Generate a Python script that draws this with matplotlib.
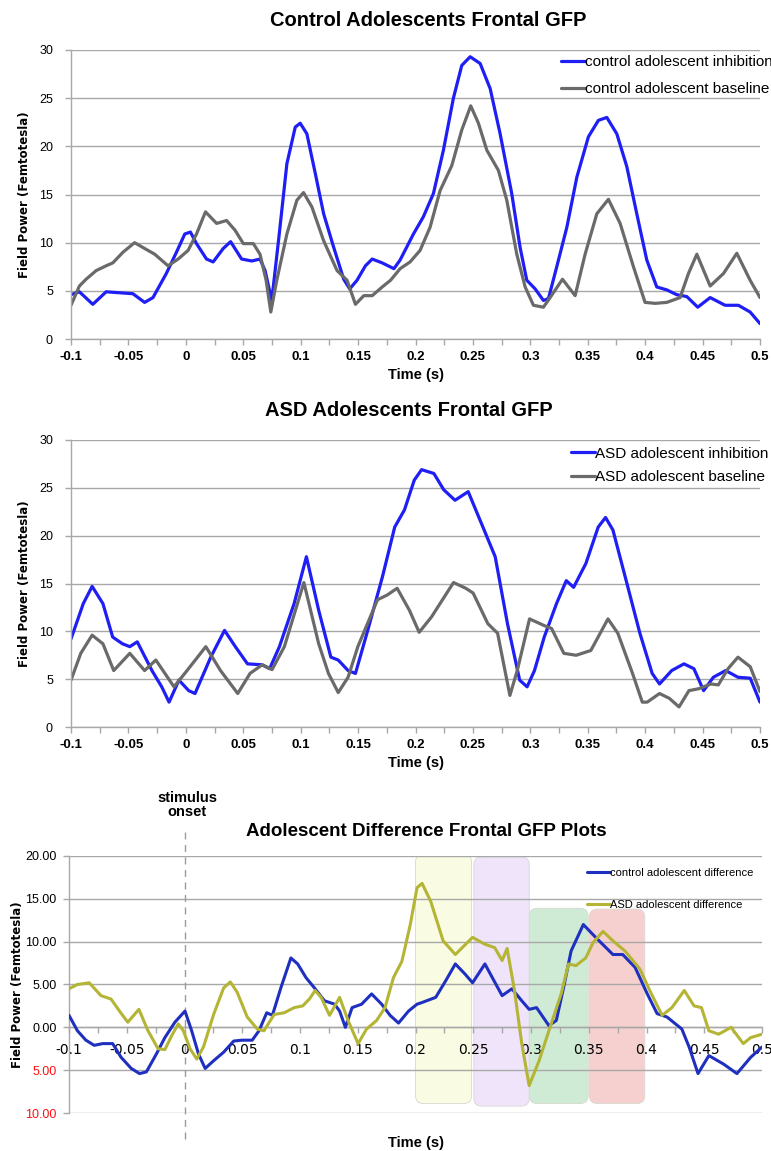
import matplotlib
matplotlib.use("Agg")
import matplotlib.pyplot as plt
from matplotlib.patches import FancyBboxPatch
import numpy as np

# ---------------- DATA ----------------
# Control adolescents (top)
ctrl_inh_t = [-0.1, -0.0927, -0.081, -0.0694, -0.0577, -0.0461, -0.0359, -0.0286, -0.017, -0.0082,
              -0.0009, 0.004, 0.0093, 0.018, 0.0238, 0.0326, 0.039, 0.0486, 0.0574, 0.0646,
              0.069, 0.0748, 0.0807, 0.088, 0.0953, 0.0996, 0.1054, 0.1127, 0.12, 0.1288,
              0.1375, 0.1427, 0.1491, 0.1564, 0.1623, 0.171, 0.1812,
              0.1866, 0.1982, 0.2069, 0.2156, 0.2243, 0.233, 0.2403, 0.2476, 0.2563, 0.265,
              0.2737, 0.2838, 0.2911, 0.2969, 0.3042, 0.3114, 0.3158, 0.323, 0.3318, 0.3405,
              0.3506, 0.3593, 0.3666, 0.3753, 0.384, 0.3927, 0.4014, 0.4101, 0.4188, 0.4275,
              0.4363, 0.4458, 0.4566, 0.4696, 0.4812, 0.4914, 0.5]
ctrl_inh_v = [4.6, 4.9, 3.6, 4.9, 4.8, 4.7, 3.8, 4.3, 6.8, 9.0,
              10.9, 11.1, 9.9, 8.3, 8.0, 9.4, 10.1, 8.3, 8.1, 8.3,
              7.1, 4.0, 10.2, 18.2, 22.0, 22.4, 21.3, 17.2, 13.0, 9.5,
              6.2, 5.2, 6.1, 7.6, 8.3, 7.9, 7.3,
              8.2, 10.9, 12.7, 15.1, 19.6, 25.0, 28.4, 29.3, 28.6, 26.0,
              21.3, 15.1, 9.5, 6.1, 5.2, 4.0, 4.2, 7.5, 11.6, 16.8,
              21.0, 22.7, 23.0, 21.3, 17.9, 13.0, 8.2, 5.4, 5.1, 4.6,
              4.4, 3.3, 4.3, 3.5, 3.5, 2.8, 1.6]
ctrl_base_t = [-0.1, -0.0927, -0.0869, -0.0781, -0.0694, -0.0636, -0.0548, -0.0446, -0.0374, -0.0271,
               -0.0155, -0.0067, 0.002, 0.0093, 0.0171, 0.0268, 0.0355, 0.0428, 0.0501, 0.0588,
               0.0646, 0.0699, 0.074, 0.0792, 0.088, 0.0967, 0.1025, 0.1098, 0.12, 0.1317,
               0.1404, 0.1477, 0.155, 0.1623, 0.171, 0.1783,
               0.1866, 0.1953, 0.2040, 0.2127, 0.2214, 0.2316, 0.2403, 0.2481, 0.2548, 0.2621,
               0.2722, 0.2795, 0.2882, 0.2955, 0.3027, 0.3114, 0.3172, 0.328, 0.339, 0.3477,
               0.3579, 0.368, 0.3782, 0.3898, 0.3999, 0.4087, 0.4188, 0.4304, 0.4377, 0.445,
               0.4566, 0.4682, 0.4798, 0.4914, 0.5]
ctrl_base_v = [3.5, 5.5, 6.2, 7.1, 7.6, 7.9, 9.0, 10.0, 9.5, 8.8,
               7.6, 8.3, 9.2, 10.9, 13.2, 12.0, 12.3, 11.3, 9.9, 9.9,
               8.8, 6.1, 2.8, 6.1, 10.9, 14.4, 15.2, 13.7, 10.2, 7.1,
               6.1, 3.6, 4.5, 4.5, 5.4, 6.1,
               7.3, 8.0, 9.2, 11.6, 15.4, 18.0, 21.7, 24.2, 22.4, 19.6,
               17.5, 14.4, 8.8, 5.4, 3.5, 3.3, 4.3, 6.2, 4.5, 8.8,
               13.0, 14.5, 12.0, 7.5, 3.8, 3.7, 3.8, 4.3, 6.8, 8.8,
               5.5, 6.8, 8.9, 6.1, 4.3]

# ASD adolescents (middle)
asd_inh_t = [-0.1, -0.0893, -0.0816, -0.0722, -0.0637, -0.0552, -0.0488, -0.0423, -0.0295, -0.0210,
             -0.0146, -0.0060, 0.0025, 0.0080, 0.0217, 0.0337, 0.0431, 0.0537, 0.0665, 0.0730,
             0.0815, 0.0943, 0.1050, 0.1157, 0.1263, 0.1327, 0.1413, 0.1477, 0.1584, 0.1712,
             0.1819, 0.1904, 0.1989, 0.2053, 0.2160, 0.2246, 0.2344, 0.2459, 0.2587, 0.2694,
             0.2801, 0.2907, 0.2972, 0.3036, 0.3121, 0.3228, 0.3313, 0.3377, 0.3484, 0.3591,
             0.3655, 0.3719, 0.3826, 0.3954, 0.4061, 0.4125, 0.4231, 0.4338, 0.4424, 0.4509,
             0.4594, 0.4701, 0.4808, 0.4915, 0.5]
asd_inh_v = [9.2, 12.9, 14.7, 12.9, 9.4, 8.7, 8.4, 8.9, 5.9, 4.2,
             2.6, 4.9, 3.8, 3.5, 7.3, 10.1, 8.4, 6.6, 6.5, 6.1,
             8.4, 12.9, 17.8, 12.2, 7.3, 7.0, 5.9, 5.6, 10.1, 15.7,
             20.9, 22.7, 25.8, 26.9, 26.5, 24.8, 23.7, 24.6, 20.9, 17.8,
             10.8, 4.9, 4.2, 5.9, 9.4, 12.9, 15.3, 14.6, 17.1, 20.9,
             21.9, 20.6, 15.7, 9.8, 5.6, 4.5, 5.9, 6.6, 6.1, 3.8,
             5.2, 5.9, 5.2, 5.1, 2.6]
asd_base_t = [-0.1, -0.0915, -0.0816, -0.0722, -0.0628, -0.0488, -0.0359, -0.0261, -0.0103, 0.0004,
              0.0174, 0.0302, 0.0452, 0.0559, 0.0665, 0.0751, 0.0858, 0.1028, 0.1157, 0.1242,
              0.1327, 0.1413, 0.1498, 0.1669, 0.1754, 0.1840, 0.1947, 0.2032, 0.2139, 0.2331,
              0.2438, 0.2502, 0.2630, 0.2715, 0.2779, 0.2822, 0.2886, 0.2993, 0.3121, 0.3185,
              0.3292, 0.3399, 0.3527, 0.3676, 0.3762, 0.3890, 0.3975, 0.4018, 0.4125, 0.4210,
              0.4295, 0.4381, 0.4466, 0.4573, 0.4637, 0.4722, 0.4808, 0.4915, 0.5]
asd_base_v = [4.9, 7.7, 9.6, 8.7, 5.9, 7.7, 5.9, 7.0, 4.2, 5.8,
              8.4, 5.9, 3.5, 5.6, 6.5, 6.0, 8.4, 15.1, 8.7, 5.6,
              3.6, 5.2, 8.4, 13.3, 13.8, 14.5, 12.2, 9.9, 11.5, 15.1,
              14.5, 14.0, 10.8, 9.8, 5.9, 3.3, 5.9, 11.3, 10.6, 10.3,
              7.7, 7.5, 8.0, 11.3, 9.8, 5.6, 2.6, 2.6, 3.5, 3.0,
              2.1, 3.8, 4.0, 4.5, 4.4, 6.1, 7.3, 6.3, 3.7]

# Difference (bottom)
ctrl_diff_t = [-0.1, -0.0927, -0.0854, -0.0782, -0.0709, -0.0622, -0.0549, -0.0461, -0.0389, -0.033,
               -0.0243, -0.017, -0.0083, 0.0004, 0.0062, 0.0121, 0.0179, 0.0252, 0.0339, 0.0426,
               0.0499, 0.0586, 0.0645, 0.0712, 0.0761, 0.0834, 0.0921, 0.098, 0.1052, 0.1125,
               0.1212, 0.13, 0.1343, 0.1393, 0.1451, 0.1533, 0.162, 0.1707, 0.178, 0.1853,
               0.194, 0.2013, 0.2057,
               0.2175, 0.2260, 0.2345, 0.2430, 0.2494, 0.2601, 0.2665,
               0.2750, 0.2835, 0.2920, 0.2984, 0.3048, 0.3155, 0.3219, 0.3283, 0.3347, 0.3453,
               0.3560, 0.3709, 0.3794, 0.3901, 0.4007, 0.4092, 0.4178, 0.4306, 0.4369, 0.4446,
               0.4540, 0.4668, 0.4783, 0.4902, 0.5]
ctrl_diff_v = [1.4, -0.4, -1.5, -2.1, -1.9, -1.9, -3.5, -4.8, -5.4, -5.2,
               -3.1, -1.2, 0.6, 1.9, -0.4, -3.1, -4.8, -3.9, -2.9, -1.6,
               -1.5, -1.5, -0.4, 1.7, 1.4, 4.6, 8.1, 7.4, 5.8, 4.6,
               3.1, 2.7, 1.9, 0.0, 2.3, 2.7, 3.9, 2.7, 1.4, 0.5,
               1.9, 2.7, 2.9,
               3.5, 5.4, 7.4, 6.2, 5.2, 7.4, 5.8,
               3.7, 4.5, 3.1, 2.1, 2.3, 0.2, 0.8, 4.7, 8.9, 12.0,
               10.5, 8.5, 8.5, 7.0, 3.9, 1.6, 1.2, -0.2, -2.3, -5.4,
               -3.3, -4.3, -5.4, -3.5, -2.3]
asd_diff_t = [-0.1, -0.0927, -0.0825, -0.0723, -0.0636, -0.0563, -0.0491, -0.0395, -0.0316, -0.0229,
              -0.017, -0.0112, -0.0054, -0.001, 0.0048, 0.0106, 0.0164, 0.0252, 0.0339, 0.0397,
              0.0456, 0.0543, 0.063, 0.0688, 0.0776, 0.0863, 0.095, 0.1023, 0.1081, 0.1131,
              0.1183, 0.1256, 0.1343, 0.1416, 0.1503, 0.1576, 0.1663, 0.1736, 0.1809, 0.1882,
              0.1955, 0.2013, 0.2057,
              0.2132, 0.2239, 0.2345, 0.2494, 0.2601, 0.2686,
              0.2750, 0.2793, 0.2857, 0.2920, 0.2984, 0.3070, 0.3155, 0.3261, 0.3325, 0.3389,
              0.3474, 0.3538, 0.3624, 0.3709, 0.3815, 0.3943, 0.4028, 0.4135, 0.4220, 0.4327,
              0.4412, 0.4476, 0.4540, 0.4625, 0.4732, 0.4838, 0.4902, 0.5]
asd_diff_v = [4.5, 5.0, 5.2, 3.7, 3.3, 1.9, 0.6, 2.1, -0.4, -2.5,
              -2.6, -1.0, 0.4, -0.4, -2.5, -3.7, -2.3, 1.5, 4.6, 5.3,
              4.1, 1.2, -0.2, -0.4, 1.5, 1.7, 2.3, 2.5, 3.3, 4.3,
              3.5, 1.4, 3.5, 0.8, -1.9, -0.2, 0.8, 2.3, 5.8, 7.7,
              12.0, 16.3, 16.8,
              14.7, 10.1, 8.5, 10.5, 9.7, 9.3,
              7.8, 9.2, 4.3, -1.9, -6.8, -3.9, -0.4, 3.9, 7.4, 7.2,
              8.1, 9.9, 11.2, 10.1, 8.9, 6.8, 4.3, 1.4, 2.3, 4.3,
              2.5, 2.3, -0.4, -0.8, 0.0, -1.9, -1.2, -0.8]

# Tick labels
x_tick_vals = [-0.1, -0.05, 0, 0.05, 0.1, 0.15, 0.2, 0.25, 0.3, 0.35, 0.4, 0.45, 0.5]
x_tick_labels = ["-0.1", "-0.05", "0", "0.05", "0.1", "0.15", "0.2", "0.25", "0.3", "0.35", "0.4", "0.45", "0.5"]
y_top_vals = [0, 5, 10, 15, 20, 25, 30]
y_top_labels = ["0", "5", "10", "15", "20", "25", "30"]
y_diff_vals = [-10, -5, 0, 5, 10, 15, 20]
y_diff_labels = ["10.00", "5.00", "0.00", "5.00", "10.00", "15.00", "20.00"]

# Highlight windows in the difference plot
win_x0 = [0.200, 0.2505, 0.2985, 0.3505]
win_x1 = [0.2485, 0.2985, 0.3495, 0.3985]
win_top = [20.2, 19.9, 13.9, 13.8]
win_bottom = [-8.9, -9.2, -8.9, -8.9]
win_colors = ["#f9fbe2", "#efe4fa", "#d0ebd5", "#f6d0cf"]

# ---------------- STYLE ----------------
SANS = ["Liberation Sans", "DejaVu Sans"]
BLUE = "#1e1ef5"
GRAY = "#6a6a6a"
DBLUE = "#1f30c0"
OLIVE = "#b4b435"
GRIDC = "#a8a8a8"

W, H = 771, 1151
fig = plt.figure(figsize=(W / 100, H / 100), dpi=100)


def axes_px(l, t, r, b):
    return fig.add_axes([l / W, 1 - b / H, (r - l) / W, (b - t) / H])


def base_style(ax, ylim, yvals, ylabels):
    ax.set_xlim(-0.1, 0.5)
    ax.set_ylim(*ylim)
    for s in ["top", "right"]:
        ax.spines[s].set_visible(False)
    ax.spines["left"].set_color(GRIDC)
    ax.spines["bottom"].set_color(GRIDC)
    ax.spines["left"].set_linewidth(1.0)
    ax.spines["bottom"].set_linewidth(1.0)
    ax.set_yticks(yvals)
    ax.set_yticklabels(ylabels, family=SANS, fontsize=9)
    ax.yaxis.grid(True, color=GRIDC, lw=1.0)
    ax.set_axisbelow(True)
    ax.set_xticks(x_tick_vals)
    ax.set_xticklabels(x_tick_labels, family=SANS, fontsize=9.5, fontweight="bold")
    ax.set_xticks(np.arange(-0.075, 0.5, 0.05), minor=True)
    ax.tick_params(axis="both", which="both", color=GRIDC, length=4, width=1.0)
    ax.tick_params(axis="x", which="both", pad=5)
    ax.tick_params(axis="y", pad=9)
    ax.set_xlabel("Time (s)", family=SANS, fontsize=10.5, fontweight="bold", labelpad=3)
    ax.set_ylabel("Field Power (Femtotesla)", family="DejaVu Sans", fontsize=8.5, fontweight="bold")


# ---- Top chart ----
ax1 = axes_px(71, 50, 760, 339)
base_style(ax1, (0, 30), y_top_vals, y_top_labels)
ax1.plot(ctrl_inh_t, ctrl_inh_v, color=BLUE, lw=2.3, label="control adolescent inhibition",
         solid_joinstyle="round", solid_capstyle="round")
ax1.plot(ctrl_base_t, ctrl_base_v, color=GRAY, lw=2.3, label="control adolescent baseline",
         solid_joinstyle="round", solid_capstyle="round")
ax1.yaxis.set_label_coords(-0.058, 0.5)
ax1.legend(loc="upper left", bbox_to_anchor=(0.70, 1.008), frameon=False, borderpad=0,
           handlelength=1.6, handletextpad=0.0, labelspacing=0.85,
           prop={"family": SANS, "size": 11})
fig.text(428 / W, 1 - 20 / H, "Control Adolescents Frontal GFP", family=SANS, fontsize=14.5,
         fontweight="bold", ha="center", va="center")

# ---- Middle chart ----
ax2 = axes_px(71, 440, 760, 727)
base_style(ax2, (0, 30), y_top_vals, y_top_labels)
ax2.plot(asd_inh_t, asd_inh_v, color=BLUE, lw=2.3, label="ASD adolescent inhibition",
         solid_joinstyle="round", solid_capstyle="round")
ax2.plot(asd_base_t, asd_base_v, color=GRAY, lw=2.3, label="ASD adolescent baseline",
         solid_joinstyle="round", solid_capstyle="round")
ax2.yaxis.set_label_coords(-0.058, 0.5)
ax2.legend(loc="upper left", bbox_to_anchor=(0.714, 1.003), frameon=False, borderpad=0,
           handlelength=1.6, handletextpad=0.0, labelspacing=0.6,
           prop={"family": SANS, "size": 11})
fig.text(409 / W, 1 - 410 / H, "ASD Adolescents Frontal GFP", family=SANS, fontsize=14.5,
         fontweight="bold", ha="center", va="center")

# ---- Bottom chart ----
ax3 = axes_px(69, 856, 762, 1113)
base_style(ax3, (-10, 20), y_diff_vals, y_diff_labels)
ax3.spines["bottom"].set_position(("data", 0))
ax3.tick_params(axis="x", which="both", pad=7)
ax3.tick_params(axis="y", pad=5)
for lbl, v in zip(ax3.get_yticklabels(), y_diff_vals):
    lbl.set_color("#ff1010" if v < 0 else "black")
ax3.xaxis.set_label_coords(0.5, -0.09)
ax3.yaxis.set_label_coords(-0.065, 0.5)

px_per_x = (762 - 69) / 0.6
px_per_y = (1113 - 856) / 30.0
r_px = 8
for x0, x1, y0, y1, c in zip(win_x0, win_x1, win_bottom, win_top, win_colors):
    p = FancyBboxPatch((x0, y0), x1 - x0, y1 - y0,
                       boxstyle="round,pad=0,rounding_size=%f" % (r_px / px_per_x),
                       mutation_aspect=px_per_x / px_per_y,
                       facecolor=c, edgecolor="#d8d8d0", lw=0.6, zorder=0.2)
    ax3.add_patch(p)

ax3.plot(ctrl_diff_t, ctrl_diff_v, color=DBLUE, lw=2.2, label="control adolescent difference",
         solid_joinstyle="round", solid_capstyle="round", zorder=3)
ax3.plot(asd_diff_t, asd_diff_v, color=OLIVE, lw=2.2, label="ASD adolescent difference",
         solid_joinstyle="round", solid_capstyle="round", zorder=3)
ax3.legend(loc="upper left", bbox_to_anchor=(0.74, 0.975), frameon=False, borderpad=0,
           handlelength=2.0, handletextpad=0.0, labelspacing=1.95,
           prop={"family": SANS, "size": 8})

# stimulus onset dashed line
ax3.plot([0, 0], [22.8, -13.0], color="#9a9a9a", lw=1.0, ls=(0, (5, 4)), clip_on=False, zorder=1)
fig.text(187 / W, 1 - 805 / H, "stimulus\nonset", family=SANS, fontsize=10.5, fontweight="bold",
         ha="center", va="center", linespacing=1.0)
fig.text(426 / W, 1 - 832 / H, "Adolescent Difference Frontal GFP Plots", family=SANS, fontsize=13.5,
         fontweight="bold", ha="center", va="center")

fig.savefig("out.png", dpi=100)
